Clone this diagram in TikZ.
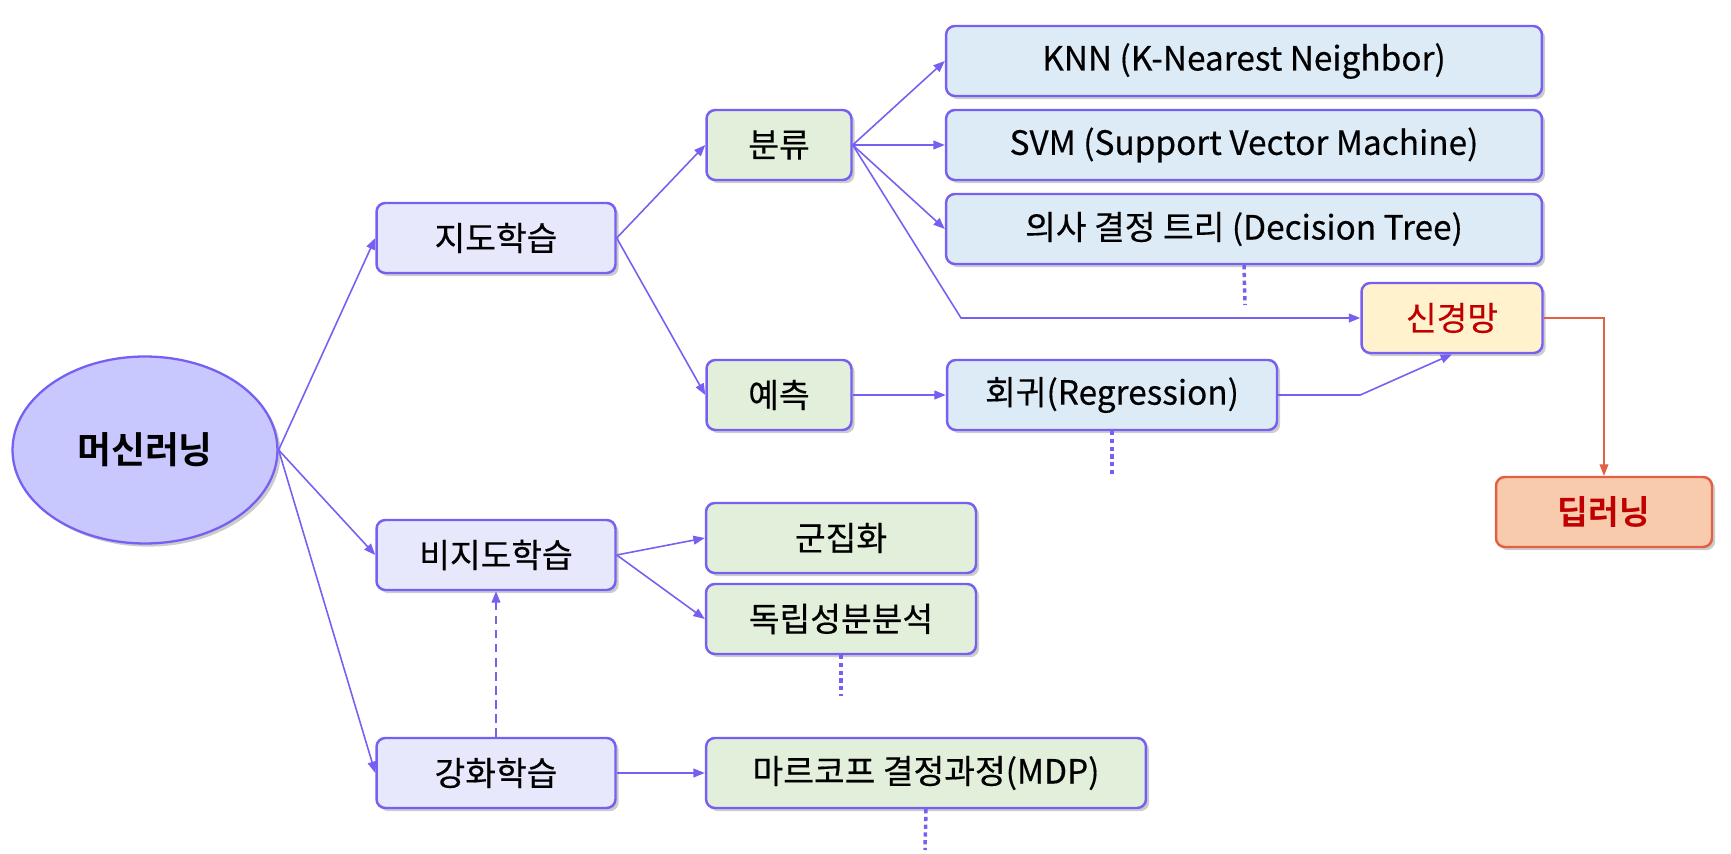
\documentclass[tikz,border=0pt]{standalone}
\usepackage{fontspec}
\setmainfont{Noto Sans CJK KR}[FakeBold=0.4, BoldFont={Noto Sans CJK KR Bold}, BoldFeatures={FakeBold=0}]
\usepackage{tikz}
\usetikzlibrary{positioning,arrows.meta,shapes.geometric,shadows}
\usepackage{xcolor}
\definecolor{linec}{RGB}{118,96,242}
\definecolor{ellc}{RGB}{200,200,255}
\definecolor{lavc}{RGB}{232,232,252}
\definecolor{greenc}{RGB}{226,239,218}
\definecolor{bluec}{RGB}{221,235,247}
\definecolor{yelc}{RGB}{255,242,204}
\definecolor{peachc}{RGB}{248,203,173}
\definecolor{deepc}{RGB}{226,96,68}
\definecolor{redtxt}{RGB}{192,0,0}

\begin{document}
\begin{tikzpicture}[x=0.02cm, y=-0.02cm, >={Triangle[length=6.5pt,width=5pt]},
  font=\fontsize{19}{22}\selectfont,
  box/.style={rectangle, rounded corners=5pt, draw=linec, line width=1.4pt, minimum height=1.4cm, inner sep=2pt,
    drop shadow={shadow xshift=1.8pt, shadow yshift=-1.8pt, opacity=0.4}},
  lvl/.style={box, fill=lavc, minimum width=4.78cm},
  task/.style={box, fill=greenc},
  algo/.style={box, fill=bluec},
  arr/.style={->, draw=linec, line width=0.9pt},
  more/.style={draw=linec, line width=2pt, dash pattern=on 2.4pt off 2pt}]
\useasboundingbox (0,0) rectangle (1731,854);
\node[ellipse, draw=linec, fill=ellc, line width=1.3pt, minimum width=5.3cm, minimum height=3.74cm,
  drop shadow={shadow xshift=1.8pt, shadow yshift=-1.8pt, opacity=0.4}, font=\fontsize{21}{24}\selectfont\bfseries] (ml) at (145,450) {머신러닝};
\node[lvl] (sup) at (496,238) {지도학습};
\node[lvl] (unsup) at (496,555) {비지도학습};
\node[lvl] (rl) at (496,773) {강화학습};
\node[task, minimum width=2.9cm] (cls) at (779,145) {분류};
\node[task, minimum width=2.9cm] (pred) at (779,395) {예측};
\node[algo, minimum width=11.92cm] (knn) at (1244,61) {KNN (K-Nearest Neighbor)};
\node[algo, minimum width=11.92cm] (svm) at (1244,145) {SVM (Support Vector Machine)};
\node[algo, minimum width=11.92cm] (dt) at (1244,229) {의사 결정 트리 (Decision Tree)};
\node[box, fill=yelc, minimum width=3.62cm, text=redtxt] (nn) at (1452,318) {신경망};
\node[algo, minimum width=6.6cm] (reg) at (1112,395) {회귀(Regression)};
\node[box, fill=peachc, draw=deepc, minimum width=4.32cm, text=redtxt, font=\fontsize{19}{22}\selectfont\bfseries] (deep) at (1604,512) {딥러닝};
\node[task, minimum width=5.4cm] (clu) at (841,538) {군집화};
\node[task, minimum width=5.4cm] (ica) at (841,619) {독립성분분석};
\node[task, minimum width=8.8cm] (mdp) at (926,773) {마르코프 결정과정(MDP)};
\coordinate (c1) at (961,318);
\coordinate (dtend) at (1245,305);
\coordinate (regend) at (1112,477);
\coordinate (icaend) at (841,696);
\coordinate (mdpend) at (925,850);
\foreach \t in {sup,unsup,rl}
  \draw[arr] (ml.east) -- (\t.west);
\draw[arr] (sup.east) -- (cls.west);
\draw[arr] (sup.east) -- (pred.west);
\foreach \t in {knn,svm,dt}
  \draw[arr] (cls.east) -- (\t.west);
\draw[arr] (cls.east) -- (c1) -- (nn.west);
\draw[arr] (pred.east) -- (reg.west);
\draw[arr] (reg.east) -- (reg.east -| nn.west) -- (nn.south);
\draw[->, draw=deepc, line width=0.6pt] (nn.east) -| (deep.north);
\draw[arr] (unsup.east) -- (clu.west);
\draw[arr] (unsup.east) -- (ica.west);
\draw[arr] (rl.east) -- (mdp.west);
\draw[arr, dash pattern=on 5pt off 3pt] (rl.north) -- (unsup.south);
\draw[more] (dt.south) -- (dtend);
\draw[more] (reg.south) -- (regend);
\draw[more] (ica.south) -- (icaend);
\draw[more] (mdp.south) -- (mdpend);
\end{tikzpicture}
\end{document}
